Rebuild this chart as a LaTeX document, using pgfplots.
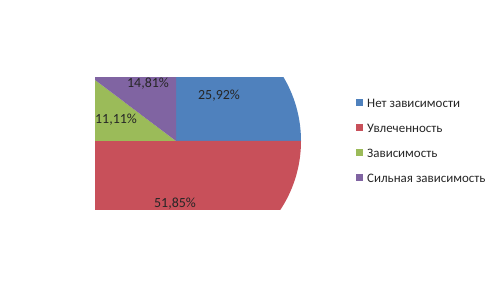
\documentclass[border=0pt]{standalone}
\usepackage{pgfplots}
\pgfplotsset{compat=1.18}
\usepackage{pgfplotstable}
\usepackage{fontspec}
\setmainfont{Carlito}
\definecolor{c1}{HTML}{4F81BD}
\definecolor{c2}{HTML}{C8505A}
\definecolor{c3}{HTML}{9BBB59}
\definecolor{c4}{HTML}{8064A2}
% slice: start angle, end angle (as drawn), label, label position (px)
\pgfplotstableread{
name start end val lx ly col
A 90 0 25,92 219 185 c1
B 0 -180 51,85 175 77 c2
C 180 143 11,11 116 161 c3
D 143 90 14,81 148 197 c4
}\slices
\newcommand\legentry[3]{%
  \fill[#2] (axis cs:356,#1-3.5) rectangle (axis cs:363,#1+3.5);
  \node[anchor=west, inner sep=0pt, font=\fontsize{13}{14}\selectfont, text=black!85] at (axis cs:367,#1) {#3};
}
\begin{document}
\begin{tikzpicture}
\begin{axis}[
  width=502bp, height=281bp, scale only axis,
  xmin=0, xmax=502, ymin=0, ymax=281,
  hide axis, clip=false,
]
\path (axis cs:0,0) rectangle (axis cs:502,281);
\begin{scope}
\clip (axis cs:95,71) rectangle (axis cs:320,203);
\pgfplotsforeachungrouped \i in {0,...,3}{%
  \pgfplotstablegetelem{\i}{start}\of{\slices}\edef\sa{\pgfplotsretval}%
  \pgfplotstablegetelem{\i}{end}\of{\slices}\edef\ea{\pgfplotsretval}%
  \pgfplotstablegetelem{\i}{col}\of{\slices}\edef\cc{\pgfplotsretval}%
  \edef\tmp{\noexpand\fill[\cc] (axis cs:176,140) -- ++(\sa:125bp) arc[start angle=\sa, end angle=\ea, radius=125bp] -- cycle;}%
  \tmp
}
\end{scope}
\pgfplotsforeachungrouped \i in {0,...,3}{%
  \pgfplotstablegetelem{\i}{val}\of{\slices}\edef\vv{\pgfplotsretval}%
  \pgfplotstablegetelem{\i}{lx}\of{\slices}\edef\xx{\pgfplotsretval}%
  \pgfplotstablegetelem{\i}{ly}\of{\slices}\edef\yy{\pgfplotsretval}%
  \edef\tmp{\noexpand\node[font=\noexpand\fontsize{14}{15}\noexpand\selectfont, text=black!85] at (axis cs:\xx,\yy) {\vv\noexpand\%};}%
  \tmp
}
\legentry{178}{c1}{Нет зависимости}
\legentry{153}{c2}{Увлеченность}
\legentry{128}{c3}{Зависимость}
\legentry{103}{c4}{Сильная зависимость}
\end{axis}
\end{tikzpicture}
\end{document}
